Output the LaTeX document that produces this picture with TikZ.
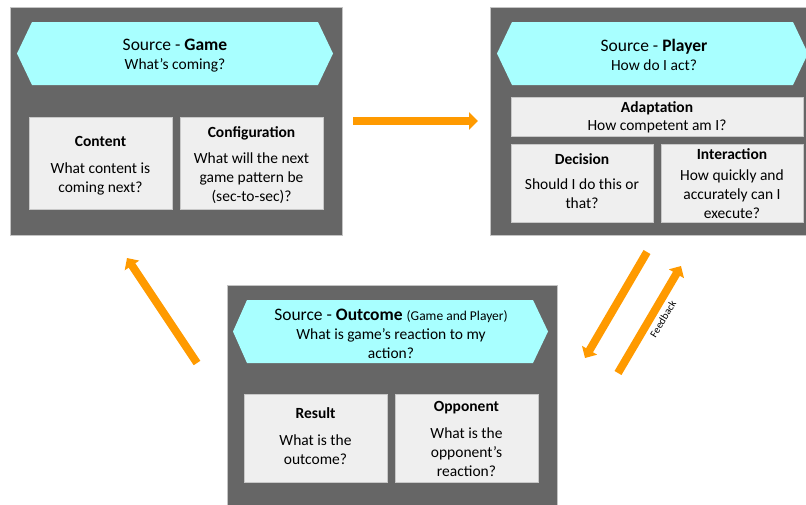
\documentclass[tikz,border=0pt]{standalone}
\usepackage{fontspec}
\setmainfont{Carlito}
\usetikzlibrary{arrows.meta}
\definecolor{panelc}{HTML}{666666}
\definecolor{panelb}{HTML}{C4C4C4}
\definecolor{hexc}{HTML}{A8FFFF}
\definecolor{boxc}{HTML}{EFEFEF}
\definecolor{boxb}{HTML}{C8C8C8}
\definecolor{arrc}{HTML}{FF9A00}
\begin{document}
\begin{tikzpicture}[x=1pt,y=-1pt,
  panel/.style={draw=panelb,fill=panelc,line width=0.8pt,minimum width=#1,inner sep=0pt},
  subbox/.style 2 args={draw=boxb,fill=boxc,line width=0.8pt,minimum width=#1,minimum height=#2,inner sep=0pt},
  txt/.style={align=center,font=\fontsize{15.5}{19}\selectfont,inner sep=0pt},
  htxt/.style={align=center,font=\fontsize{17.5}{20}\selectfont,inner sep=0pt},
  hexfill/.style={fill=hexc},
  bigarrow/.style={draw=arrc,line width=8pt,-{Triangle[length=9pt,width=17pt]}},
]
\useasboundingbox (0,0) rectangle (806,504);
% panels
\node[panel=332pt,minimum height=228pt] (game) at (176,121) {};
\node[panel=318pt,minimum height=228pt] (player) at (649,121) {};
\node[panel=330pt,minimum height=226pt] (outcome) at (392,398) {};
% hexagons
\fill[hexfill] (17,53.5) -- (32,22) -- (318,22) -- (333,53.5) -- (318,85) -- (32,85) -- cycle;
\fill[hexfill] (497,53.5) -- (512,22) -- (793,22) -- (808,53.5) -- (793,85) -- (512,85) -- cycle;
\fill[hexfill] (233,331.5) -- (247,300) -- (533,300) -- (548,331.5) -- (533,363) -- (247,363) -- cycle;
\node[htxt] (gamehead) at (175,56) {Source - \textbf{Game}\\[-1pt]{\fontsize{15.5}{19}\selectfont What’s coming?}};
\node[htxt] (playerhead) at (654,55) {Source - \textbf{Player}\\[-1pt]{\fontsize{15.5}{19}\selectfont How do I act?}};
\node[htxt] (outcomehead) at (391,334) {Source - \textbf{Outcome} {\fontsize{13.5}{15}\selectfont(Game and Player)}\\[-1pt]{\fontsize{15.5}{19}\selectfont What is game’s reaction to my}\\[-1pt]{\fontsize{15.5}{19}\selectfont action?}};
% sub boxes
\node[subbox={143pt}{92pt}] (content) at (100.5,163) {};
\node[txt] at ([yshift=-3pt]content.center) {\textbf{Content}\\[8pt]What content is\\coming next?};
\node[subbox={143pt}{92pt}] (config) at (251.5,163) {};
\node[txt] at ([yshift=-2pt]config.center) {\textbf{Configuration}\\[7pt]What will the next\\game pattern be\\(sec-to-sec)?};
\node[subbox={292pt}{39pt}] (adapt) at (657,116.5) {};
\node[txt] at ([yshift=-1pt]adapt.center) {\textbf{Adaptation}\\[-1pt]How competent am I?};
\node[subbox={142pt}{78pt}] (decision) at (582,183) {};
\node[txt] at ([yshift=2pt]decision.center) {\textbf{Decision}\\[6pt]Should I do this or\\that?};
\node[subbox={142pt}{78pt}] (interaction) at (732,183) {};
\node[txt] at ([yshift=-1pt]interaction.center) {\textbf{Interaction}\\[2pt]How quickly and\\accurately can I\\execute?};
\node[subbox={143pt}{88pt}] (result) at (315.5,438) {};
\node[txt] at ([yshift=2pt]result.center) {\textbf{Result}\\[8pt]What is the\\outcome?};
\node[subbox={143pt}{88pt}] (opponent) at (466.5,438) {};
\node[txt] at ([yshift=-1pt]opponent.center) {\textbf{Opponent}\\[8pt]What is the\\opponent’s\\reaction?};
% arrow end points
\coordinate (a1s) at (353,121);
\coordinate (a1e) at (478,121);
\coordinate (a2s) at (197,363);
\coordinate (a2e) at (127,258);
\coordinate (a3s) at (647,252);
\coordinate (a3e) at (585,358);
\coordinate (a4s) at (618,373);
\coordinate (a4e) at (681,266);
\draw[bigarrow] (a1s) -- (a1e);
\draw[bigarrow] (a2s) -- (a2e);
\draw[bigarrow] (a3s) -- (a3e);
\draw[bigarrow] (a4s) -- (a4e);
\node[rotate=59,font=\fontsize{10.5}{12}\selectfont,inner sep=0pt] (fb) at (663,319) {Feedback};
\end{tikzpicture}
\end{document}
